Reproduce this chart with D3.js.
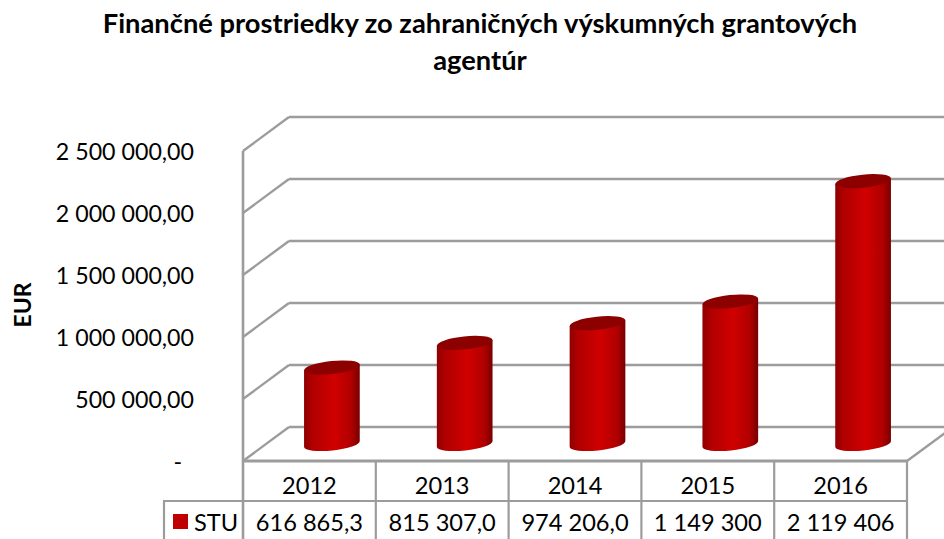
<!DOCTYPE html>
<html><head><meta charset="utf-8">
<script src="https://cdn.jsdelivr.net/npm/d3@7/dist/d3.min.js"></script>
<style>html,body{margin:0;background:#fff}svg{display:block}text{font-family:Lato,"Open Sans",sans-serif;fill:#000}</style>
</head><body><div id="c"></div>
<script>
const titleLines = ["Finančné prostriedky zo zahraničných výskumných grantových","agentúr"];
const axisTitle = "EUR";
const years = ["2012","2013","2014","2015","2016"];
const values = [616865.3,815307,974206,1149300,2119406];
const valueLabels = ["616 865,3","815 307,0","974 206,0","1 149 300","2 119 406"];
const seriesName = "STU";
const yTicks = [0,500000,1000000,1500000,2000000,2500000];
const yLabels = ["-","500 000,00","1 000 000,00","1 500 000,00","2 000 000,00","2 500 000,00"];

const W=944,H=539;
const depthX=46, depthY=34;
const gray="#9c9c9c";
const svg=d3.select("#c").append("svg").attr("width",W).attr("height",H);
const x=d3.scaleBand().domain(years).range([243,907]);
const y=d3.scaleLinear().domain([0,2500000]).range([461,151]);
const defs=svg.append("defs");
const g=defs.append("linearGradient").attr("id","cyl");
[[0,"#8e0000"],[0.15,"#b00000"],[0.55,"#d00000"],[0.85,"#b00000"],[1,"#780000"]].forEach(([o,c])=>g.append("stop").attr("offset",o).attr("stop-color",c));

// back wall gridlines, side wall diagonals
const walls=svg.append("g").attr("fill","none").attr("stroke",gray).attr("stroke-width",2.4);
yTicks.forEach(t=>{
  walls.append("line").attr("x1",x.range()[0]).attr("y1",y(t)).attr("x2",x.range()[0]+depthX).attr("y2",y(t)-depthY);
  walls.append("line").attr("x1",x.range()[0]+depthX).attr("y1",y(t)-depthY).attr("x2",x.range()[1]+depthX).attr("y2",y(t)-depthY);
});
walls.append("line").attr("x1",x.range()[1]).attr("y1",y(0)).attr("x2",x.range()[1]+depthX).attr("y2",y(0)-depthY);
walls.append("line").attr("x1",x.range()[0]).attr("y1",y(2500000)).attr("x2",x.range()[0]).attr("y2",539).attr("stroke-width",2.6);
walls.append("line").attr("x1",x.range()[0]).attr("y1",y(0)).attr("x2",x.range()[1]).attr("y2",y(0)).attr("stroke-width",3);

// cylinders
const rx=28, ry=6.5, tilt=-6;
const base=y(0)-17;
const ex=rx*Math.cos(tilt*Math.PI/180), ey=rx*Math.sin(-tilt*Math.PI/180);
const bars=svg.append("g").selectAll("g").data(years).join("g")
  .attr("transform",d=>`translate(${x(d)+x.bandwidth()/2+depthX/2-0.5},0)`);
bars.append("path").attr("fill","url(#cyl)").attr("d",(d,i)=>{
  const top=base-(y(0)-y(values[i]));
  return `M${-ex},${top+ey} L${-ex},${base+ey} A${rx},${ry} ${tilt} 0 0 ${ex},${base-ey} L${ex},${top-ey} Z`;
});
bars.append("ellipse").attr("rx",rx).attr("ry",ry).attr("fill","#8c0000")
  .attr("cy",(d,i)=>base-(y(0)-y(values[i])))
  .attr("transform",(d,i)=>`rotate(${tilt} 0 ${base-(y(0)-y(values[i]))})`);

// table
const tbl=svg.append("g").attr("stroke",gray).attr("stroke-width",2.2);
const rowY=[461,501,539];
tbl.append("line").attr("x1",163).attr("x2",907).attr("y1",rowY[1]).attr("y2",rowY[1]);
tbl.append("line").attr("x1",164).attr("x2",164).attr("y1",rowY[1]).attr("y2",539);
years.forEach(d=>tbl.append("line").attr("x1",x(d)+x.bandwidth()).attr("x2",x(d)+x.bandwidth()).attr("y1",rowY[0]).attr("y2",539));

const fs=23.6;
const t=svg.append("g").attr("text-anchor","middle").attr("font-size",fs);
years.forEach((d,i)=>{
  t.append("text").attr("x",x(d)+x.bandwidth()/2).attr("y",494).text(d);
  t.append("text").attr("x",x(d)+x.bandwidth()/2).attr("y",531).text(valueLabels[i]);
});
svg.append("rect").attr("x",173).attr("y",514).attr("width",15).attr("height",15).attr("fill","#c00000");
svg.append("text").attr("x",194).attr("y",531).attr("font-size",fs).text(seriesName);

// y labels
svg.append("g").attr("text-anchor","end").attr("font-size",23.2).selectAll("text").data(yTicks).join("text")
  .attr("x",194).attr("y",(d,i)=>y(d)+9).attr("dx",(d,i)=>i===0?-12:0).text((d,i)=>yLabels[i]);
svg.append("text").attr("transform","translate(31,305) rotate(-90)").attr("text-anchor","middle").attr("font-size",23).attr("font-weight",700).text(axisTitle);
svg.append("g").attr("text-anchor","middle").attr("font-size",27.3).attr("font-weight",700).selectAll("text").data(titleLines).join("text")
  .attr("x",480).attr("y",(d,i)=>33+i*37).text(d=>d);
</script></body></html>
